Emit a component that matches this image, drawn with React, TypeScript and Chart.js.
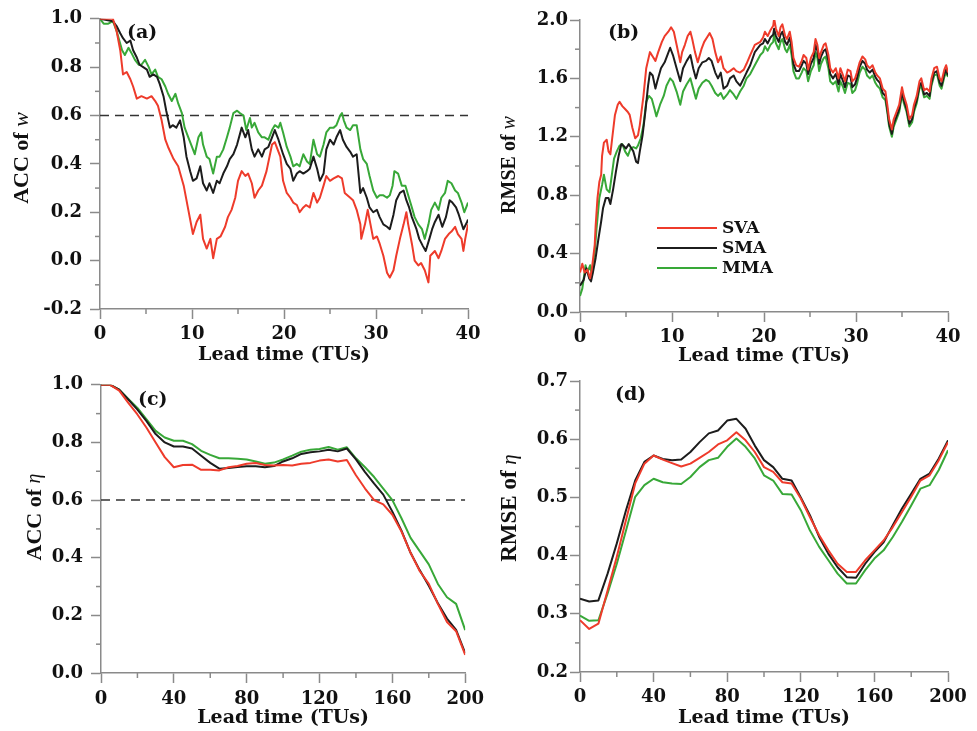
import React, { useEffect, useRef } from "react";
import { Chart, registerables } from "chart.js";
Chart.register(...registerables);

const RED = "#ee3b2b";
const BLACK = "#1c1c1c";
const GREEN = "#38a838";
const AXIS = "#8a8a8a";
const SERIES_NAMES = ["SVA", "SMA", "MMA"];
const THRESHOLD = 0.6;

// ---------- Panel (a): ACC of w, [lead time, value] ----------
const aSVA = [[0,1.0],[1.4,1.0],[1.8,0.95],[2.2,0.87],[2.5,0.77],[2.9,0.78],[3.3,0.75],[3.6,0.72],[4.0,0.67],[4.5,0.68],[5.1,0.67],[5.6,0.68],[6.0,0.66],[6.3,0.64],[6.7,0.58],[7.1,0.50],[7.4,0.47],[8.0,0.42],[8.5,0.39],[9.1,0.31],[9.6,0.21],[10.1,0.11],[10.5,0.16],[10.9,0.19],[11.2,0.09],[11.6,0.05],[12.0,0.09],[12.3,0.01],[12.7,0.09],[13.1,0.10],[13.6,0.14],[13.9,0.18],[14.3,0.21],[14.7,0.26],[15.0,0.33],[15.4,0.37],[15.8,0.35],[16.1,0.36],[16.5,0.32],[16.8,0.26],[17.2,0.29],[17.6,0.31],[18.1,0.37],[18.7,0.48],[19.0,0.49],[19.6,0.43],[19.9,0.33],[20.3,0.28],[20.7,0.26],[21.0,0.24],[21.4,0.23],[21.7,0.20],[22.1,0.22],[22.4,0.23],[22.8,0.22],[23.2,0.28],[23.6,0.24],[23.9,0.26],[24.3,0.31],[24.6,0.35],[25.0,0.33],[25.4,0.34],[25.9,0.35],[26.3,0.34],[26.6,0.28],[27.2,0.26],[27.5,0.25],[27.9,0.21],[28.3,0.15],[28.4,0.09],[28.8,0.15],[29.1,0.21],[29.4,0.15],[29.7,0.09],[30.1,0.10],[30.4,0.07],[30.8,0.02],[31.2,-0.05],[31.5,-0.07],[31.9,-0.04],[32.2,0.02],[32.6,0.09],[33.0,0.15],[33.3,0.20],[33.5,0.15],[33.9,0.07],[34.2,0.00],[34.6,-0.02],[34.9,-0.01],[35.3,-0.04],[35.7,-0.09],[35.8,-0.04],[35.9,0.02],[36.4,0.04],[36.8,0.01],[37.1,0.04],[37.5,0.09],[37.9,0.11],[38.2,0.12],[38.6,0.14],[38.9,0.11],[39.3,0.09],[39.5,0.04],[39.7,0.09],[40.0,0.15]];
const aSMA = [[0,1.0],[1.4,0.99],[1.8,0.97],[2.2,0.94],[2.5,0.92],[2.9,0.90],[3.3,0.91],[3.6,0.87],[4.0,0.84],[4.3,0.81],[4.7,0.80],[5.1,0.79],[5.4,0.76],[5.8,0.77],[6.2,0.76],[6.5,0.73],[6.9,0.68],[7.2,0.62],[7.6,0.55],[7.9,0.56],[8.3,0.55],[8.7,0.58],[9.1,0.51],[9.4,0.43],[9.8,0.37],[10.1,0.33],[10.5,0.34],[10.9,0.39],[11.2,0.32],[11.6,0.29],[11.9,0.32],[12.3,0.28],[12.7,0.33],[13.0,0.32],[13.4,0.36],[13.8,0.39],[14.1,0.42],[14.5,0.44],[14.9,0.48],[15.4,0.55],[15.8,0.51],[16.1,0.54],[16.5,0.46],[16.8,0.43],[17.2,0.46],[17.6,0.43],[17.9,0.46],[18.3,0.47],[18.7,0.51],[19.0,0.54],[19.4,0.50],[19.9,0.44],[20.3,0.40],[20.7,0.38],[21.0,0.33],[21.4,0.36],[21.7,0.37],[22.1,0.36],[22.5,0.37],[22.8,0.38],[23.2,0.43],[23.6,0.38],[23.9,0.33],[24.3,0.36],[24.6,0.46],[25.0,0.50],[25.4,0.48],[25.7,0.51],[26.1,0.54],[26.4,0.50],[26.8,0.47],[27.2,0.45],[27.5,0.43],[27.9,0.44],[28.3,0.28],[28.6,0.30],[29.0,0.26],[29.3,0.22],[29.7,0.20],[30.1,0.21],[30.4,0.18],[30.8,0.15],[31.2,0.14],[31.5,0.13],[31.9,0.19],[32.2,0.25],[32.6,0.28],[33.0,0.29],[33.3,0.25],[33.6,0.22],[33.9,0.18],[34.4,0.13],[34.7,0.09],[35.1,0.06],[35.4,0.04],[35.8,0.09],[36.1,0.13],[36.4,0.16],[36.8,0.19],[37.2,0.14],[37.6,0.18],[38.0,0.25],[38.3,0.24],[38.7,0.22],[39.0,0.19],[39.5,0.13],[39.9,0.16],[40.0,0.17]];
const aMMA = [[0,1.0],[0.4,0.98],[0.9,0.98],[1.4,0.99],[1.8,0.95],[2.4,0.87],[2.7,0.85],[3.1,0.88],[3.4,0.86],[3.8,0.83],[4.2,0.81],[4.5,0.81],[4.9,0.83],[5.3,0.80],[5.6,0.77],[6.0,0.79],[6.3,0.76],[6.7,0.75],[7.1,0.72],[7.4,0.69],[7.8,0.66],[8.2,0.69],[8.5,0.65],[8.9,0.61],[9.2,0.55],[9.6,0.51],[10.0,0.47],[10.3,0.44],[10.7,0.51],[11.0,0.53],[11.2,0.48],[11.6,0.43],[11.9,0.42],[12.3,0.36],[12.7,0.43],[13.0,0.43],[13.4,0.46],[13.8,0.51],[14.1,0.55],[14.5,0.61],[14.9,0.62],[15.2,0.61],[15.6,0.60],[15.9,0.54],[16.3,0.59],[16.5,0.55],[16.8,0.57],[17.2,0.53],[17.6,0.51],[17.9,0.51],[18.3,0.50],[18.7,0.54],[19.0,0.56],[19.4,0.55],[19.6,0.57],[19.9,0.53],[20.3,0.47],[20.7,0.43],[21.0,0.39],[21.4,0.40],[21.7,0.39],[22.1,0.44],[22.5,0.41],[22.8,0.40],[23.2,0.50],[23.6,0.44],[23.9,0.43],[24.3,0.48],[24.6,0.53],[25.0,0.55],[25.4,0.55],[25.7,0.56],[26.1,0.60],[26.3,0.61],[26.5,0.58],[26.8,0.55],[27.2,0.54],[27.5,0.56],[27.9,0.56],[28.3,0.46],[28.6,0.42],[29.0,0.40],[29.3,0.35],[29.7,0.29],[30.1,0.26],[30.4,0.27],[30.8,0.27],[31.2,0.26],[31.5,0.27],[31.8,0.31],[32.0,0.37],[32.4,0.36],[32.8,0.31],[33.2,0.31],[33.5,0.27],[33.9,0.22],[34.2,0.18],[34.6,0.15],[35.0,0.13],[35.3,0.09],[35.7,0.15],[36.0,0.21],[36.4,0.24],[36.8,0.21],[37.1,0.26],[37.5,0.28],[37.8,0.33],[38.2,0.32],[38.6,0.29],[38.9,0.28],[39.3,0.24],[39.6,0.20],[40.0,0.24]];

// ---------- Panel (b): RMSE of w ----------
const bSVA = [[0,0.27],[0.25,0.33],[0.5,0.27],[0.8,0.29],[1.1,0.23],[1.3,0.30],[1.6,0.46],[1.7,0.59],[1.9,0.78],[2.1,0.89],[2.3,0.94],[2.4,1.07],[2.6,1.16],[2.9,1.18],[3.1,1.10],[3.3,1.08],[3.5,1.19],[3.8,1.35],[4.1,1.42],[4.3,1.44],[4.6,1.41],[4.9,1.39],[5.2,1.37],[5.4,1.35],[5.7,1.26],[6.0,1.19],[6.3,1.21],[6.5,1.28],[6.9,1.48],[7.2,1.67],[7.6,1.78],[7.9,1.75],[8.2,1.72],[8.5,1.78],[8.9,1.85],[9.2,1.89],[9.6,1.92],[9.9,1.95],[10.2,1.92],[10.5,1.83],[10.9,1.71],[11.1,1.78],[11.4,1.83],[11.7,1.89],[12.0,1.92],[12.2,1.87],[12.5,1.78],[12.8,1.71],[13.2,1.80],[13.5,1.85],[13.9,1.89],[14.1,1.91],[14.4,1.87],[14.7,1.78],[15.0,1.71],[15.3,1.75],[15.6,1.67],[16.0,1.64],[16.3,1.65],[16.7,1.67],[17.0,1.65],[17.4,1.64],[17.8,1.66],[18.1,1.70],[18.5,1.76],[19.0,1.83],[19.6,1.85],[19.9,1.88],[20.1,1.92],[20.4,1.89],[20.7,1.93],[21.0,1.96],[21.1,2.01],[21.3,1.94],[21.6,1.89],[21.8,1.95],[22.0,1.97],[22.3,1.89],[22.5,1.87],[22.8,1.92],[23.0,1.85],[23.2,1.74],[23.5,1.69],[23.8,1.68],[24.1,1.72],[24.3,1.76],[24.6,1.74],[24.8,1.66],[25.1,1.74],[25.4,1.78],[25.6,1.87],[25.8,1.83],[26.0,1.74],[26.2,1.78],[26.5,1.83],[26.7,1.84],[27.0,1.76],[27.2,1.67],[27.5,1.64],[27.8,1.67],[28.1,1.60],[28.3,1.67],[28.6,1.62],[28.8,1.58],[29.1,1.66],[29.4,1.65],[29.6,1.58],[29.9,1.60],[30.1,1.64],[30.4,1.71],[30.7,1.75],[31.0,1.73],[31.2,1.69],[31.5,1.67],[31.8,1.69],[32.1,1.64],[32.3,1.62],[32.6,1.60],[32.9,1.53],[33.2,1.51],[33.4,1.42],[33.6,1.32],[33.9,1.25],[34.1,1.32],[34.4,1.37],[34.7,1.42],[35.0,1.54],[35.2,1.48],[35.5,1.42],[35.8,1.32],[36.1,1.35],[36.3,1.42],[36.6,1.48],[36.9,1.58],[37.1,1.60],[37.4,1.52],[37.7,1.53],[38.0,1.51],[38.2,1.60],[38.5,1.67],[38.8,1.68],[39.1,1.60],[39.3,1.58],[39.6,1.66],[39.8,1.69],[40.0,1.64]];
const bSMA = [[0,0.18],[0.4,0.22],[0.7,0.30],[1.0,0.23],[1.2,0.21],[1.4,0.27],[1.7,0.37],[2.0,0.50],[2.3,0.62],[2.5,0.71],[2.8,0.78],[3.1,0.78],[3.3,0.74],[3.6,0.84],[3.9,0.96],[4.2,1.07],[4.5,1.15],[4.7,1.14],[5.0,1.12],[5.3,1.15],[5.5,1.13],[5.8,1.10],[6.1,1.03],[6.3,1.02],[6.5,1.10],[6.8,1.21],[7.1,1.37],[7.4,1.55],[7.6,1.64],[7.9,1.62],[8.2,1.53],[8.4,1.58],[8.8,1.67],[9.2,1.71],[9.5,1.76],[9.8,1.81],[10.1,1.76],[10.5,1.67],[10.9,1.58],[11.2,1.67],[11.6,1.72],[12.0,1.76],[12.3,1.67],[12.6,1.60],[12.9,1.67],[13.3,1.71],[13.7,1.72],[14.0,1.74],[14.3,1.72],[14.7,1.64],[15.0,1.60],[15.3,1.64],[15.6,1.53],[16.0,1.55],[16.3,1.60],[16.7,1.62],[17.0,1.58],[17.4,1.55],[17.8,1.60],[18.1,1.64],[18.5,1.69],[19.0,1.78],[19.6,1.83],[19.9,1.84],[20.1,1.87],[20.4,1.84],[20.7,1.88],[21.0,1.90],[21.1,1.94],[21.3,1.89],[21.6,1.85],[21.8,1.90],[22.0,1.92],[22.3,1.85],[22.5,1.83],[22.8,1.88],[23.0,1.81],[23.2,1.70],[23.5,1.65],[23.8,1.65],[24.1,1.69],[24.3,1.72],[24.6,1.70],[24.8,1.63],[25.1,1.70],[25.4,1.74],[25.6,1.83],[25.8,1.79],[26.0,1.70],[26.2,1.75],[26.5,1.79],[26.7,1.80],[27.0,1.72],[27.2,1.63],[27.5,1.60],[27.8,1.63],[28.1,1.56],[28.3,1.63],[28.6,1.58],[28.8,1.54],[29.1,1.62],[29.4,1.61],[29.6,1.54],[29.9,1.56],[30.1,1.60],[30.4,1.68],[30.7,1.72],[31.0,1.70],[31.2,1.66],[31.5,1.64],[31.8,1.66],[32.1,1.61],[32.3,1.59],[32.6,1.57],[32.9,1.50],[33.2,1.48],[33.4,1.39],[33.6,1.29],[33.9,1.22],[34.1,1.29],[34.4,1.34],[34.7,1.39],[35.0,1.51],[35.2,1.45],[35.5,1.39],[35.8,1.29],[36.1,1.32],[36.3,1.39],[36.6,1.45],[36.9,1.55],[37.1,1.57],[37.4,1.49],[37.7,1.50],[38.0,1.48],[38.2,1.57],[38.5,1.64],[38.8,1.65],[39.1,1.57],[39.3,1.55],[39.6,1.63],[39.8,1.66],[40.0,1.62]];
const bMMA = [[0,0.11],[0.25,0.16],[0.45,0.25],[0.6,0.32],[0.8,0.27],[1.1,0.32],[1.3,0.25],[1.6,0.41],[1.8,0.57],[2.1,0.78],[2.4,0.87],[2.6,0.94],[2.9,0.84],[3.2,0.82],[3.4,0.91],[3.7,1.05],[4.0,1.10],[4.3,1.14],[4.6,1.15],[4.9,1.10],[5.2,1.07],[5.5,1.12],[5.8,1.13],[6.1,1.12],[6.3,1.14],[6.6,1.19],[6.9,1.28],[7.2,1.44],[7.5,1.48],[7.8,1.46],[8.1,1.39],[8.3,1.34],[8.7,1.42],[9.1,1.48],[9.4,1.55],[9.8,1.60],[10.1,1.58],[10.5,1.51],[10.9,1.42],[11.2,1.51],[11.6,1.56],[12.0,1.60],[12.3,1.53],[12.6,1.46],[12.9,1.53],[13.3,1.57],[13.7,1.59],[14.0,1.58],[14.3,1.55],[14.7,1.50],[15.0,1.48],[15.3,1.50],[15.6,1.46],[16.0,1.49],[16.3,1.52],[16.7,1.49],[17.0,1.46],[17.4,1.51],[17.8,1.55],[18.1,1.60],[18.5,1.63],[19.0,1.69],[19.6,1.76],[19.9,1.78],[20.1,1.82],[20.4,1.79],[20.7,1.83],[21.0,1.85],[21.1,1.90],[21.3,1.84],[21.6,1.80],[21.8,1.85],[22.0,1.87],[22.3,1.80],[22.5,1.78],[22.8,1.83],[23.0,1.76],[23.2,1.65],[23.5,1.60],[23.8,1.60],[24.1,1.64],[24.3,1.67],[24.6,1.65],[24.8,1.58],[25.1,1.65],[25.4,1.69],[25.6,1.78],[25.8,1.74],[26.0,1.65],[26.2,1.70],[26.5,1.74],[26.7,1.75],[27.0,1.67],[27.2,1.58],[27.5,1.56],[27.8,1.58],[28.1,1.51],[28.3,1.58],[28.6,1.54],[28.8,1.50],[29.1,1.57],[29.4,1.56],[29.6,1.50],[29.9,1.52],[30.1,1.56],[30.4,1.64],[30.7,1.68],[31.0,1.66],[31.2,1.62],[31.5,1.60],[31.8,1.62],[32.1,1.57],[32.3,1.55],[32.6,1.53],[32.9,1.47],[33.2,1.45],[33.4,1.37],[33.6,1.27],[33.9,1.20],[34.1,1.27],[34.4,1.32],[34.7,1.37],[35.0,1.49],[35.2,1.43],[35.5,1.37],[35.8,1.27],[36.1,1.30],[36.3,1.37],[36.6,1.43],[36.9,1.53],[37.1,1.55],[37.4,1.47],[37.7,1.48],[38.0,1.46],[38.2,1.55],[38.5,1.62],[38.8,1.63],[39.1,1.55],[39.3,1.53],[39.6,1.61],[39.8,1.64],[40.0,1.61]];

// ---------- Panels (c), (d): lead time every 5 TUs ----------
const leadTime200 = [0,5,10,15,20,25,30,35,40,45,50,55,60,65,70,75,80,85,90,95,100,105,110,115,120,125,130,135,140,145,150,155,160,165,170,175,180,185,190,195,200];
const cSVA = [1.0,1.0,0.98,0.937,0.897,0.851,0.80,0.749,0.714,0.722,0.723,0.705,0.705,0.703,0.714,0.718,0.726,0.729,0.722,0.72,0.722,0.72,0.726,0.729,0.737,0.741,0.734,0.739,0.686,0.64,0.60,0.585,0.549,0.491,0.417,0.354,0.309,0.24,0.177,0.145,0.063];
const cSMA = [1.0,1.0,0.983,0.949,0.914,0.874,0.829,0.80,0.786,0.786,0.779,0.754,0.729,0.709,0.711,0.715,0.717,0.717,0.714,0.718,0.734,0.745,0.76,0.766,0.769,0.775,0.769,0.779,0.741,0.697,0.657,0.619,0.56,0.494,0.417,0.357,0.303,0.242,0.189,0.15,0.069];
const cMMA = [1.0,1.0,0.983,0.951,0.92,0.88,0.84,0.817,0.806,0.806,0.794,0.771,0.757,0.745,0.745,0.743,0.741,0.734,0.726,0.73,0.741,0.754,0.768,0.775,0.777,0.784,0.775,0.783,0.745,0.714,0.68,0.64,0.60,0.537,0.469,0.423,0.377,0.309,0.263,0.24,0.149];
const dSVA = [0.289,0.274,0.283,0.34,0.398,0.461,0.524,0.558,0.572,0.565,0.559,0.553,0.558,0.568,0.578,0.591,0.598,0.612,0.598,0.578,0.552,0.544,0.526,0.524,0.498,0.466,0.435,0.409,0.386,0.372,0.372,0.392,0.409,0.426,0.449,0.475,0.501,0.529,0.538,0.564,0.595];
const dSMA = [0.326,0.321,0.323,0.369,0.421,0.478,0.529,0.561,0.572,0.566,0.564,0.565,0.578,0.595,0.61,0.615,0.632,0.635,0.618,0.589,0.564,0.552,0.532,0.529,0.50,0.469,0.432,0.403,0.38,0.363,0.362,0.386,0.406,0.423,0.452,0.481,0.506,0.532,0.541,0.567,0.598];
const dMMA = [0.297,0.288,0.289,0.335,0.386,0.443,0.501,0.521,0.532,0.526,0.524,0.523,0.535,0.552,0.564,0.568,0.587,0.601,0.587,0.567,0.538,0.529,0.506,0.505,0.478,0.443,0.415,0.392,0.369,0.352,0.352,0.375,0.395,0.409,0.432,0.458,0.486,0.515,0.521,0.547,0.581];

// tick settings
const aYTicks = { min: -0.2, max: 1.0, step: 0.2, minor: [-0.1, 0.1, 0.3, 0.5, 0.7, 0.9] };
const bYTicks = { min: 0.0, max: 2.0, step: 0.4, minor: [0.2, 0.6, 1.0, 1.4, 1.8] };
const cYTicks = { min: 0.0, max: 1.0, step: 0.2, minor: [0.1, 0.3, 0.5, 0.7, 0.9] };
const dYTicks = { min: 0.2, max: 0.7, step: 0.1, minor: [0.25, 0.35, 0.45, 0.55, 0.65] };
const x40Ticks = { min: 0, max: 40, step: 10, minor: [5, 15, 25, 35] };
const x200Ticks = { min: 0, max: 200, step: 40, minor: [20, 60, 100, 140, 180] };

const pairs = (arr: number[][]) => arr.map((p) => ({ x: p[0], y: p[1] }));
const zipXY = (xs: number[], ys: number[]) => ys.map((y, i) => ({ x: xs[i], y }));
const fmt1 = (v: any) => {
  const r = Math.round(Number(v) * 10) / 10;
  return (r === 0 ? 0 : r).toFixed(1);
};

const TICK_FONT = { family: "DejaVu Serif", size: 18, weight: "bold" as const };
const XTITLE_FONT = { family: "DejaVu Serif", size: 19, weight: "bold" as const, lineHeight: 1 };

const decorPlugin = {
  id: "decor",
  afterDraw(chart: any, _args: any, opts: any) {
    const { ctx, chartArea, scales } = chart;
    ctx.save();
    // minor ticks
    ctx.strokeStyle = AXIS;
    ctx.lineWidth = 1.5;
    (opts.minorX || []).forEach((v: number) => {
      const px = scales.x.getPixelForValue(v);
      ctx.beginPath();
      ctx.moveTo(px, chartArea.bottom);
      ctx.lineTo(px, chartArea.bottom + 5);
      ctx.stroke();
    });
    (opts.minorY || []).forEach((v: number) => {
      const py = scales.y.getPixelForValue(v);
      ctx.beginPath();
      ctx.moveTo(chartArea.left, py);
      ctx.lineTo(chartArea.left - 5, py);
      ctx.stroke();
    });
    // rotated y title with mixed fonts
    if (opts.yTitle) {
      const yt = opts.yTitle;
      ctx.save();
      ctx.translate(yt.x, yt.y);
      ctx.rotate(-Math.PI / 2);
      ctx.fillStyle = "#111";
      ctx.textBaseline = "middle";
      ctx.textAlign = "left";
      let total = 0;
      const widths = yt.parts.map((p: any) => {
        ctx.font = p.font;
        const w = ctx.measureText(p.text).width;
        total += w;
        return w;
      });
      let cx = -total / 2;
      yt.parts.forEach((p: any, i: number) => {
        ctx.font = p.font;
        ctx.fillText(p.text, cx, p.dy || 0);
        cx += widths[i];
      });
      ctx.restore();
    }
    // panel label
    if (opts.label) {
      ctx.fillStyle = "#111";
      ctx.font = "bold 19px 'DejaVu Serif'";
      ctx.textBaseline = "middle";
      ctx.textAlign = "left";
      ctx.fillText(opts.label.text, opts.label.x, opts.label.y);
    }
    // in-plot legend
    if (opts.legend) {
      const lg = opts.legend;
      const items = chart.data.datasets.filter((d: any) => SERIES_NAMES.includes(d.label));
      items.forEach((d: any, i: number) => {
        const y = lg.y + i * lg.gap;
        ctx.strokeStyle = d.borderColor;
        ctx.lineWidth = 2;
        ctx.beginPath();
        ctx.moveTo(lg.x, y);
        ctx.lineTo(lg.x + lg.len, y);
        ctx.stroke();
        ctx.fillStyle = "#111";
        ctx.font = "bold 17px 'DejaVu Serif'";
        ctx.textBaseline = "middle";
        ctx.textAlign = "left";
        ctx.fillText(d.label, lg.x + lg.len + 5, y + 1);
      });
    }
    ctx.restore();
  },
};

function makeConfig(p: any) {
  const datasets: any[] = [
    { label: "SVA", data: p.sva, borderColor: RED },
    { label: "SMA", data: p.sma, borderColor: BLACK },
    { label: "MMA", data: p.mma, borderColor: GREEN },
  ].map((d) => ({ ...d, borderWidth: 2, pointRadius: 0, tension: 0, fill: false, borderJoinStyle: "round" }));
  if (p.threshold) {
    datasets.push({
      label: "threshold",
      data: [{ x: p.xt.min, y: THRESHOLD }, { x: p.xt.max, y: THRESHOLD }],
      borderColor: "#333",
      borderWidth: 1.5,
      borderDash: [9, 6],
      pointRadius: 0,
      fill: false,
    });
  }
  return {
    type: "line",
    data: { datasets },
    plugins: [decorPlugin],
    options: {
      responsive: false,
      animation: false,
      events: [],
      layout: { padding: { left: 0, right: p.padR, top: p.padT, bottom: 0 } },
      plugins: {
        legend: { display: false },
        tooltip: { enabled: false },
        decor: {
          minorX: p.xt.minor,
          minorY: p.yt.minor,
          yTitle: p.yTitle,
          label: p.label,
          legend: p.legend,
        },
      },
      scales: {
        x: {
          type: "linear",
          min: p.xt.min,
          max: p.xt.max,
          afterFit: (s: any) => { s.height = p.xH; },
          ticks: { stepSize: p.xt.step, font: TICK_FONT, color: "#111", padding: p.xPad, maxRotation: 0, autoSkip: false, callback: (v: any) => String(v) },
          grid: { display: true, drawOnChartArea: false, drawTicks: true, tickLength: 10, tickColor: AXIS, tickWidth: 1.5 },
          border: { display: true, color: AXIS, width: 1.5 },
          title: { display: true, text: "Lead time (TUs)", font: XTITLE_FONT, color: "#111", padding: { top: 0, bottom: p.titlePad } },
        },
        y: {
          type: "linear",
          min: p.yt.min,
          max: p.yt.max,
          afterFit: (s: any) => { s.width = p.yW; },
          ticks: { stepSize: p.yt.step, font: TICK_FONT, color: "#111", padding: p.yPad, autoSkip: false, callback: fmt1 },
          grid: { display: true, drawOnChartArea: false, drawTicks: true, tickLength: 10, tickColor: AXIS, tickWidth: 1.5 },
          border: { display: true, color: AXIS, width: 1.5 },
        },
      },
    },
  };
}

const serif = (size: number, style: string) => `${style} ${size}px 'Liberation Serif'`;

const panels = [
  {
    key: "a", left: 0, top: 0, w: 490, h: 366, yW: 100, padR: 22, padT: 18, xH: 57, xPad: 5, yPad: 8, titlePad: 1.5,
    sva: pairs(aSVA), sma: pairs(aSMA), mma: pairs(aMMA), xt: x40Ticks, yt: aYTicks, threshold: true,
    yTitle: { x: 22, y: 158, parts: [{ text: "ACC of ", font: serif(22, "bold") }, { text: "w", font: serif(22, "italic") }] },
    label: { text: "(a)", x: 127, y: 33 },
    legend: null,
  },
  {
    key: "b", left: 490, top: 0, w: 487, h: 366, yW: 90, padR: 29, padT: 20, xH: 54, xPad: 5, yPad: 2, titlePad: 0,
    sva: pairs(bSVA), sma: pairs(bSMA), mma: pairs(bMMA), xt: x40Ticks, yt: bYTicks, threshold: false,
    yTitle: { x: 20, y: 165, parts: [{ text: "RMSE of ", font: serif(20, "bold") }, { text: "w", font: serif(20, "italic") }] },
    label: { text: "(b)", x: 118, y: 33 },
    legend: { x: 167, y: 228, gap: 20, len: 60 },
  },
  {
    key: "c", left: 0, top: 366, w: 490, h: 365, yW: 101, padR: 21, padT: 16, xH: 58, xPad: 6, yPad: 8, titlePad: 3.5,
    sva: zipXY(leadTime200, cSVA), sma: zipXY(leadTime200, cSMA), mma: zipXY(leadTime200, cMMA), xt: x200Ticks, yt: cYTicks, threshold: true,
    yTitle: { x: 35, y: 151, parts: [{ text: "ACC of ", font: serif(22, "bold") }, { text: "η", font: serif(20, "italic") }] },
    label: { text: "(c)", x: 138, y: 34 },
    legend: null,
  },
  {
    key: "d", left: 490, top: 366, w: 487, h: 365, yW: 90, padR: 29, padT: 15, xH: 59, xPad: 5, yPad: 2, titlePad: 3.5,
    sva: zipXY(leadTime200, dSVA), sma: zipXY(leadTime200, dSMA), mma: zipXY(leadTime200, dMMA), xt: x200Ticks, yt: dYTicks, threshold: false,
    yTitle: { x: 20, y: 142, parts: [{ text: "RMSE of ", font: serif(23, "bold") }, { text: "η", font: serif(21, "italic") }] },
    label: { text: "(d)", x: 125, y: 29 },
    legend: null,
  },
];

function Panel({ p }: { p: any }) {
  const ref = useRef<HTMLCanvasElement>(null);
  useEffect(() => {
    const chart = new Chart(ref.current as HTMLCanvasElement, makeConfig(p) as any);
    return () => chart.destroy();
  }, []);
  return (
    <canvas
      ref={ref}
      width={p.w}
      height={p.h}
      style={{ position: "absolute", left: p.left, top: p.top, width: p.w, height: p.h }}
    />
  );
}

export default function App() {
  return (
    <div style={{ position: "absolute", left: 0, top: 0, width: 977, height: 731, background: "#fff", overflow: "hidden" }}>
      {panels.map((p) => (
        <Panel key={p.key} p={p} />
      ))}
    </div>
  );
}
